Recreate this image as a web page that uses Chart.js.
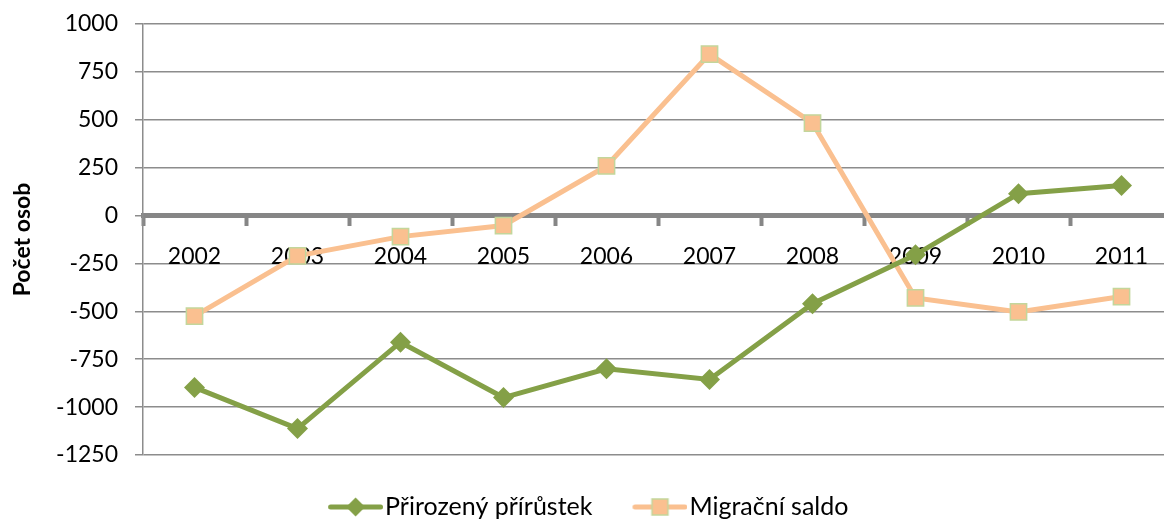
<!DOCTYPE html>
<html><head><meta charset="utf-8">
<script src="https://cdn.jsdelivr.net/npm/chart.js@4.4.1/dist/chart.umd.min.js"></script>
<style>html,body{margin:0;padding:0;overflow:hidden;background:#fff}canvas{display:block}</style>
</head><body>
<canvas id="c" width="1186" height="522"></canvas>
<script>
const categories = ['2002','2003','2004','2005','2006','2007','2008','2009','2010','2011'];
const prirozenyPrirustek = [-897, -1112, -661, -950, -800, -856, -460, -205, 114, 157];
const migracniSaldo = [-525, -210, -110, -52, 259, 843, 483, -430, -503, -423];
const yTickValues = [-1250, -1000, -750, -500, -250, 0, 250, 500, 750, 1000];
const seriesNames = ['Přirozený přírůstek', 'Migrační saldo'];

const GREEN = '#84a047';
const ORANGE = '#fac090';
const SQ_BORDER = '#c3d69b';
const FONT = 'Lato, "Open Sans", sans-serif';

function legendImage(kind) {
  const cv = document.createElement('canvas');
  cv.width = 66; cv.height = 24;
  const g = cv.getContext('2d');
  g.lineCap = 'round';
  g.lineWidth = 5;
  g.strokeStyle = kind === 'diamond' ? GREEN : ORANGE;
  g.beginPath(); g.moveTo(13.5, 12); g.lineTo(63.5, 12); g.stroke();
  const cx = 38.5;
  if (kind === 'diamond') {
    g.fillStyle = GREEN;
    g.beginPath(); g.moveTo(cx, 2.5); g.lineTo(cx + 9.5, 12); g.lineTo(cx, 21.5); g.lineTo(cx - 9.5, 12); g.closePath(); g.fill();
  } else {
    g.fillStyle = ORANGE; g.strokeStyle = SQ_BORDER; g.lineWidth = 1.5;
    g.fillRect(cx - 8, 4, 16, 16); g.strokeRect(cx - 8, 4, 16, 16);
  }
  return cv;
}
const legendImgs = [legendImage('diamond'), legendImage('square')];
const noPad = (s) => { s.paddingLeft = 0; s.paddingRight = 0; s.paddingTop = 0; s.paddingBottom = 0; };

new Chart(document.getElementById('c'), {
  type: 'line',
  data: {
    labels: categories,
    datasets: [
      {
        label: seriesNames[0], data: prirozenyPrirustek,
        borderColor: GREEN, backgroundColor: GREEN, borderWidth: 5,
        pointStyle: 'rectRot', pointRadius: 10.5, pointBackgroundColor: GREEN, pointBorderColor: GREEN, pointBorderWidth: 0,
        tension: 0, xAxisID: 'x', yAxisID: 'y'
      },
      {
        label: seriesNames[1], data: migracniSaldo,
        borderColor: ORANGE, backgroundColor: ORANGE, borderWidth: 5,
        pointStyle: 'rect', pointRadius: 11.5, pointBackgroundColor: ORANGE, pointBorderColor: SQ_BORDER, pointBorderWidth: 1.5,
        tension: 0, xAxisID: 'x', yAxisID: 'y'
      }
    ]
  },
  options: {
    responsive: false,
    animation: false,
    events: [],
    layout: { padding: { top: 24, right: 10, left: 0, bottom: -7.5 } },
    scales: {
      x: {
        type: 'category', axis: 'x', position: { y: 0 }, offset: true,
        afterFit: noPad,
        grid: { display: true, drawOnChartArea: false, drawTicks: true, tickLength: 8, tickWidth: 4, tickColor: '#868686', offset: true },
        border: { display: true, color: '#868686', width: 5 },
        ticks: { display: false }
      },
      x2: {
        type: 'category', axis: 'x', position: { y: 0 }, offset: true, z: 1,
        afterFit: noPad,
        grid: { display: false },
        border: { display: false },
        ticks: { color: '#000', font: { family: FONT, size: 23 }, padding: 19, maxRotation: 0, autoSkip: false }
      },
      y: {
        type: 'linear', position: 'left', min: -1250, max: 1000,
        afterBuildTicks: (s) => { s.ticks = yTickValues.map(v => ({ value: v })); },
        afterFit: (s) => { s.width = 143; noPad(s); },
        grid: { color: '#8c8c8c', lineWidth: 1.5, tickLength: 8, tickColor: '#8c8c8c' },
        border: { display: true, color: '#8c8c8c', width: 1.5 },
        ticks: { color: '#000', font: { family: FONT, size: 23 }, padding: 17, callback: (v) => String(v) },
        title: { display: true, text: 'Počet osob', color: '#000', font: { family: FONT, size: 23, weight: 'bold' }, padding: { top: 9, bottom: 0 } }
      }
    },
    plugins: {
      tooltip: { enabled: false },
      legend: {
        position: 'bottom',
        labels: {
          usePointStyle: true, pointStyleWidth: 45, padding: 39.5,
          color: '#000', font: { family: FONT, size: 25 },
          generateLabels: (chart) => {
            const items = Chart.defaults.plugins.legend.labels.generateLabels(chart);
            items.forEach((it, i) => { it.pointStyle = legendImgs[i]; });
            return items;
          }
        }
      }
    }
  }
});
</script>
</body></html>
